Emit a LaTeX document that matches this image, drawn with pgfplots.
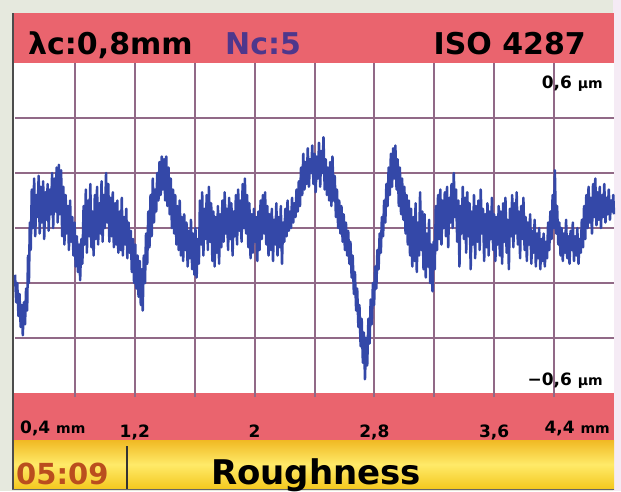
\documentclass[border=0pt]{standalone}
\usepackage{fontspec}
\setmainfont{DejaVu Sans}
\usepackage{pgfplots}
\pgfplotsset{compat=1.18}
\definecolor{bandc}{RGB}{234,100,110}
\definecolor{gridc}{RGB}{145,105,135}
\definecolor{tracec}{RGB}{52,72,168}
\definecolor{ncc}{RGB}{78,55,140}
\definecolor{timec}{RGB}{186,78,30}
\definecolor{framec}{RGB}{230,233,222}
\definecolor{ylwtop}{RGB}{240,185,35}
\definecolor{ylwmid}{RGB}{255,234,105}
\definecolor{ylwbot}{RGB}{244,200,30}
\newcommand{\fs}[1]{\fontsize{#1}{#1}\selectfont}
\begin{document}
\begin{tikzpicture}[x=1pt,y=1pt]
\useasboundingbox (0,0) rectangle (621,491);
\fill[framec] (0,0) rectangle (621,491);
\fill[white!92!violet] (613,0) rectangle (621,491);
\fill[bandc] (12,428) rectangle (614,478);
\fill[white] (12,98) rectangle (614,428);
\fill[bandc] (12,51) rectangle (614,98);
\shade[top color=ylwtop, bottom color=ylwbot, middle color=ylwmid] (12,2) rectangle (614,51);
\draw[black!80, line width=1.6pt] (127,2) -- (127,45);
\draw[black!70, line width=2pt] (13,2) -- (13,478);
\draw[black!60, line width=0.8pt] (12,1.5) -- (614,1.5);
% top band text
\node[anchor=base west, inner sep=0pt] at (28,436) {\bfseries\fs{30}λc:0,8mm};
\node[anchor=base west, inner sep=0pt, text=ncc] at (225,436) {\bfseries\fs{30}Nc:5};
\node[anchor=base east, inner sep=0pt] at (586,436) {\bfseries\fs{30}ISO 4287};
% bottom yellow band
\node[anchor=base west, inner sep=0pt, text=timec] at (16,7) {\bfseries\fs{29}05:09};
\node[anchor=base west, inner sep=0pt] at (211,7) {\bfseries\fs{34}Roughness};
\begin{axis}[
  at={(15pt,98pt)}, anchor=south west,
  width=599pt, height=330pt, scale only axis,
  xmin=0.4, xmax=4.4, ymin=-0.6, ymax=0.6,
  clip=false,
  axis line style={draw=none},
  xtick={0.8,1.2,1.6,2.0,2.4,2.8,3.2,3.6,4.0},
  xticklabels={,{1,2},,{2},,{2,8},,{3,6},},
  ytick={-0.4,-0.2,0,0.2,0.4},
  yticklabels={},
  grid=major,
  major grid style={draw=gridc, line width=2pt},
  xtick pos=bottom, tick align=outside,
  major tick length=4pt,
  x tick style={draw=gridc, line width=2pt},
  y tick style={draw=none},
  xticklabel style={anchor=base, yshift=-40pt, font=\bfseries\fs{17}, inner sep=0pt},
]
\addplot[tracec, line width=2.5pt, line join=round] coordinates {
(0.400,-0.17)(0.408,-0.27)(0.415,-0.20)(0.423,-0.32)(0.430,-0.24)(0.438,-0.36)(0.445,-0.28)(0.452,-0.39)
(0.460,-0.27)(0.467,-0.35)(0.474,-0.22)(0.481,-0.30)(0.487,-0.10)(0.493,-0.20)(0.499,0.02)(0.505,-0.08)
(0.512,0.14)(0.520,0.00)(0.528,0.18)(0.535,-0.03)(0.543,0.12)(0.550,0.04)(0.558,0.19)(0.565,-0.02)
(0.573,0.15)(0.580,0.02)(0.588,0.17)(0.595,-0.04)(0.603,0.13)(0.610,0.03)(0.618,0.16)(0.625,-0.01)
(0.633,0.14)(0.640,0.05)(0.648,0.20)(0.655,0.00)(0.663,0.18)(0.670,0.06)(0.678,0.22)(0.685,0.02)
(0.693,0.23)(0.700,0.05)(0.708,0.21)(0.715,-0.03)(0.723,0.15)(0.730,-0.06)(0.738,0.12)(0.745,-0.02)
(0.753,0.08)(0.760,-0.08)(0.768,0.10)(0.775,-0.05)(0.783,0.04)(0.790,-0.10)
(0.798,0.02)(0.805,-0.14)(0.813,-0.03)(0.820,-0.16)(0.828,-0.06)(0.835,-0.19)(0.843,-0.04)(0.850,-0.13)
(0.858,0.08)(0.865,-0.06)(0.873,0.14)(0.880,-0.09)(0.888,0.10)(0.895,-0.03)(0.903,0.16)(0.910,-0.07)
(0.918,0.06)(0.925,-0.10)(0.933,0.12)(0.940,-0.04)(0.948,0.15)(0.955,-0.06)(0.963,0.09)(0.970,-0.02)
(0.978,0.17)(0.985,-0.05)(0.993,0.12)(1.000,0.00)(1.008,0.20)(1.015,0.02)(1.023,0.16)(1.030,-0.05)
(1.038,0.11)(1.045,-0.03)(1.053,0.13)(1.060,-0.07)(1.068,0.09)(1.075,-0.06)(1.083,0.10)(1.090,-0.09)
(1.098,0.06)(1.105,-0.08)(1.113,0.11)(1.120,-0.10)(1.128,0.04)(1.135,-0.06)(1.143,0.07)(1.150,-0.11)
(1.158,0.02)(1.165,-0.09)(1.173,-0.01)(1.180,-0.16)(1.188,-0.04)(1.195,-0.20)(1.203,-0.06)(1.210,-0.22)
(1.218,-0.10)(1.225,-0.25)(1.233,-0.12)(1.240,-0.28)(1.248,-0.15)(1.253,-0.30)
(1.260,-0.10)(1.268,-0.20)(1.275,-0.02)(1.283,-0.13)(1.290,0.06)(1.298,-0.07)(1.305,0.12)(1.313,-0.03)
(1.320,0.18)(1.328,0.02)(1.335,0.14)(1.343,0.06)(1.350,0.20)(1.358,0.10)(1.365,0.24)(1.373,0.12)
(1.380,0.26)(1.388,0.14)(1.395,0.25)(1.403,0.10)(1.410,0.26)(1.418,0.08)(1.425,0.22)
(1.433,0.05)(1.440,0.18)(1.448,0.00)(1.455,0.14)(1.463,-0.02)(1.470,0.12)(1.478,-0.06)(1.485,0.08)
(1.493,-0.08)(1.500,0.10)(1.508,-0.10)(1.515,0.04)(1.523,-0.12)(1.530,0.05)(1.538,-0.08)(1.545,0.02)
(1.553,-0.14)(1.560,-0.01)(1.568,-0.11)(1.575,0.03)(1.583,-0.15)(1.590,-0.02)(1.598,-0.17)(1.605,0.00)
(1.613,-0.18)(1.620,-0.04)
(1.628,-0.13)(1.635,0.10)(1.643,-0.06)(1.650,0.13)(1.658,-0.10)(1.665,0.07)(1.673,-0.04)(1.680,0.12)
(1.688,-0.08)(1.695,0.15)(1.703,-0.05)(1.710,0.09)(1.718,-0.12)(1.725,0.06)(1.733,-0.14)(1.740,0.04)
(1.748,-0.09)(1.755,0.08)(1.763,-0.13)(1.770,0.05)(1.778,-0.07)(1.785,0.10)(1.793,-0.05)(1.800,0.13)
(1.808,-0.02)(1.815,0.07)(1.823,-0.08)(1.830,0.11)(1.838,-0.04)(1.845,0.09)(1.853,-0.10)(1.860,0.06)
(1.868,-0.03)(1.875,0.12)(1.883,-0.06)(1.890,0.14)(1.898,-0.01)(1.905,0.10)(1.913,-0.05)(1.920,0.16)
(1.928,0.00)(1.935,0.18)(1.943,-0.02)(1.950,0.12)(1.958,-0.07)(1.965,0.09)(1.973,-0.11)(1.980,0.05)
(1.988,-0.09)(1.995,0.07)(2.003,-0.05)(2.010,0.04)(2.018,-0.12)(2.025,0.06)(2.033,-0.08)(2.040,0.10)
(2.048,-0.04)(2.055,0.12)(2.063,-0.02)(2.070,0.13)(2.078,-0.06)(2.085,0.08)(2.093,-0.10)(2.100,0.05)
(2.108,-0.08)(2.115,0.07)(2.123,-0.12)(2.130,0.03)(2.138,-0.06)(2.145,0.09)(2.153,-0.10)(2.160,0.04)
(2.168,-0.07)(2.175,0.08)(2.183,-0.13)(2.190,0.02)(2.198,-0.05)(2.205,0.07)(2.213,-0.03)(2.220,0.10)
(2.228,-0.01)(2.235,0.06)(2.243,0.00)(2.250,0.11)(2.258,0.02)(2.265,0.09)(2.273,0.04)(2.280,0.14)
(2.288,0.06)(2.295,0.17)
(2.303,0.08)(2.310,0.22)(2.318,0.12)(2.325,0.27)(2.333,0.14)(2.340,0.24)(2.348,0.16)(2.355,0.29)
(2.363,0.15)(2.370,0.25)(2.378,0.20)(2.385,0.30)(2.393,0.16)(2.400,0.27)(2.408,0.13)(2.415,0.26)
(2.423,0.18)(2.430,0.31)(2.438,0.15)(2.445,0.28)(2.453,0.20)(2.460,0.33)(2.468,0.14)(2.475,0.25)
(2.483,0.12)(2.490,0.22)(2.498,0.10)(2.505,0.24)(2.513,0.08)(2.520,0.26)(2.528,0.10)(2.535,0.19)
(2.543,0.04)(2.550,0.14)(2.558,0.00)(2.565,0.10)(2.573,-0.02)(2.580,0.08)(2.588,-0.05)(2.595,0.05)
(2.603,-0.08)(2.610,0.02)(2.618,-0.10)(2.625,-0.01)(2.633,-0.13)(2.640,-0.05)
(2.648,-0.18)(2.655,-0.10)(2.663,-0.24)(2.670,-0.16)(2.678,-0.30)(2.685,-0.22)(2.693,-0.36)(2.700,-0.28)
(2.708,-0.43)(2.715,-0.33)(2.723,-0.49)(2.730,-0.38)(2.737,-0.55)(2.745,-0.40)(2.752,-0.50)
(2.760,-0.33)(2.768,-0.42)(2.775,-0.26)(2.783,-0.35)(2.790,-0.20)(2.798,-0.28)(2.805,-0.14)(2.813,-0.22)
(2.820,-0.08)(2.828,-0.15)(2.835,-0.02)(2.843,-0.09)(2.850,0.04)(2.858,-0.03)(2.865,0.10)(2.873,0.02)
(2.880,0.16)(2.888,0.08)(2.895,0.22)(2.903,0.12)(2.910,0.27)(2.918,0.15)(2.925,0.29)(2.933,0.18)
(2.940,0.30)(2.948,0.14)
(2.955,0.25)(2.963,0.08)(2.970,0.22)(2.978,0.05)(2.985,0.18)(2.993,0.03)(3.000,0.15)(3.008,-0.02)
(3.015,0.12)(3.023,-0.06)(3.030,0.10)(3.038,-0.10)(3.045,0.07)(3.053,-0.14)(3.060,0.04)(3.068,-0.12)
(3.075,0.09)(3.083,-0.16)(3.090,0.02)(3.098,-0.10)(3.105,0.13)(3.113,-0.08)(3.120,0.06)(3.128,-0.15)
(3.135,0.05)(3.143,-0.18)(3.150,-0.02)(3.158,-0.14)(3.165,0.03)(3.173,-0.20)(3.180,-0.06)(3.188,-0.23)
(3.195,-0.05)
(3.203,-0.15)(3.210,0.08)(3.218,-0.08)(3.225,0.12)(3.233,-0.04)(3.240,0.14)(3.248,-0.06)(3.255,0.10)
(3.263,0.00)(3.270,0.13)(3.278,-0.03)(3.285,0.15)(3.293,-0.07)(3.300,0.11)(3.308,0.02)(3.315,0.16)
(3.323,0.00)(3.330,0.20)(3.338,0.04)(3.345,0.14)(3.353,-0.05)(3.360,0.10)(3.368,-0.14)(3.375,0.08)
(3.383,-0.02)(3.390,0.15)(3.398,-0.04)(3.405,0.11)(3.413,-0.09)(3.420,0.13)(3.428,-0.03)(3.435,0.09)
(3.443,-0.15)(3.450,0.06)(3.458,-0.06)(3.465,0.12)(3.473,-0.11)(3.480,0.08)(3.488,-0.05)(3.495,0.10)
(3.503,-0.08)(3.510,0.14)(3.518,-0.02)(3.525,0.07)(3.533,-0.12)(3.540,0.05)(3.548,-0.07)(3.555,0.09)
(3.563,-0.10)(3.570,0.06)(3.578,-0.04)(3.585,0.11)(3.593,-0.08)(3.600,0.05)(3.608,-0.12)(3.615,0.04)
(3.623,-0.06)(3.630,0.08)(3.638,-0.10)
(3.645,0.06)(3.653,-0.13)(3.660,0.09)(3.668,-0.05)(3.675,0.11)(3.683,-0.09)(3.690,0.03)(3.698,-0.15)
(3.705,0.07)(3.713,-0.03)(3.720,0.12)(3.728,-0.07)(3.735,0.09)(3.743,-0.02)(3.750,0.13)(3.758,-0.06)
(3.765,0.06)(3.773,-0.11)(3.780,0.08)(3.788,-0.04)(3.795,0.11)(3.803,-0.08)(3.810,0.04)(3.818,-0.12)
(3.825,0.02)(3.833,-0.06)(3.840,0.05)(3.848,-0.13)(3.855,-0.01)(3.863,-0.09)(3.870,0.03)(3.878,-0.14)
(3.885,-0.02)(3.893,-0.11)(3.900,0.00)(3.908,-0.15)(3.915,-0.04)(3.923,-0.12)(3.930,-0.02)(3.938,-0.14)
(3.945,-0.05)(3.953,-0.11)(3.960,0.02)(3.968,-0.08)(3.975,0.06)(3.983,-0.04)(3.990,0.12)(3.998,0.00)
(4.005,0.21)(4.013,-0.02)(4.020,0.08)(4.028,-0.06)(4.035,0.02)(4.043,-0.10)(4.050,0.00)(4.058,-0.12)
(4.065,-0.02)(4.073,-0.09)(4.080,0.03)(4.088,-0.11)(4.095,-0.03)(4.103,-0.13)(4.110,-0.01)(4.118,-0.08)
(4.125,0.02)(4.133,-0.12)(4.140,-0.03)(4.148,-0.10)(4.155,0.00)(4.163,-0.13)(4.170,-0.04)(4.178,-0.09)
(4.185,0.03)(4.193,-0.07)
(4.200,0.08)(4.208,-0.04)(4.215,0.12)(4.223,0.00)(4.230,0.15)(4.238,0.02)(4.245,0.11)(4.253,-0.02)
(4.260,0.16)(4.268,0.04)(4.275,0.18)(4.283,0.01)(4.290,0.13)(4.298,0.03)(4.305,0.15)(4.313,0.00)
(4.320,0.12)(4.328,0.04)(4.335,0.16)(4.343,0.02)(4.350,0.11)(4.358,0.05)(4.365,0.14)(4.373,0.03)
(4.380,0.10)(4.388,0.06)(4.395,0.12)(4.400,0.05)
};
\node[anchor=north east, inner sep=0pt] at ([xshift=-11pt,yshift=-13pt]rel axis cs:1,1) {\bfseries\fs{17}0,6 \fs{14}µm};
\node[anchor=base east, inner sep=0pt] at ([xshift=-11pt,yshift=8pt]rel axis cs:1,0) {\bfseries\fs{17}−0,6 \fs{14}µm};
\node[anchor=base west, inner sep=0pt] at ([xshift=5pt,yshift=-40pt]rel axis cs:0,0) {\bfseries\fs{17}0,4 \fs{14}mm};
\node[anchor=base east, inner sep=0pt] at ([xshift=-4pt,yshift=-40pt]rel axis cs:1,0) {\bfseries\fs{17}4,4 \fs{14}mm};
\end{axis}
\end{tikzpicture}
\end{document}
